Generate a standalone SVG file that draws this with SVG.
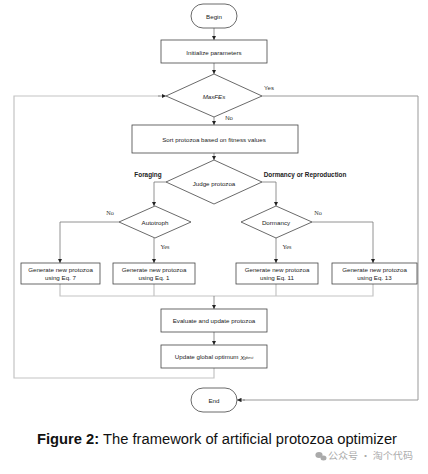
<svg xmlns="http://www.w3.org/2000/svg" width="428" height="474" viewBox="0 0 428 474">
<defs>
<marker id="ah" viewBox="0 0 6 6" refX="6" refY="3" markerWidth="4.5" markerHeight="4.5" orient="auto" markerUnits="userSpaceOnUse">
<path d="M0,0 L6,3 L0,6 Z" fill="#222"/>
</marker>
</defs>
<style>
.box{fill:#fff;stroke:#444;stroke-width:0.8}
.t{font-family:"Liberation Sans",Arial,sans-serif;font-size:6.2px;fill:#222;text-anchor:middle;dominant-baseline:central}
.b{font-family:"Liberation Sans",Arial,sans-serif;font-size:6.4px;font-weight:bold;fill:#222;text-anchor:middle;dominant-baseline:central}
.s{font-family:"Liberation Serif","Times New Roman",serif;font-size:6.2px;fill:#333;text-anchor:middle;dominant-baseline:central}
.c{fill:none;stroke:#777;stroke-width:0.8}
.lp{fill:none;stroke:#c4c4c4;stroke-width:1.2}
.rp{fill:none;stroke:#999;stroke-width:1}
</style>
<rect width="428" height="474" fill="#fff"/>
<g id="connectors">
<line class="c" x1="214" y1="28" x2="214" y2="40" marker-end="url(#ah)"/>
<line class="c" x1="214" y1="63" x2="214" y2="74" marker-end="url(#ah)"/>
<line class="c" x1="214" y1="117" x2="214" y2="125" marker-end="url(#ah)"/>
<line class="c" x1="214" y1="153" x2="214" y2="160" marker-end="url(#ah)"/>
<polyline class="c" points="166,182 154,182 154,206" marker-end="url(#ah)"/>
<polyline class="c" points="262,182 276,182 276,206" marker-end="url(#ah)"/>
<polyline class="c" points="119,222 60,222 60,263" marker-end="url(#ah)"/>
<line class="c" x1="154" y1="238" x2="154" y2="263" marker-end="url(#ah)"/>
<line class="c" x1="276" y1="238" x2="276" y2="263" marker-end="url(#ah)"/>
<polyline class="c" points="312,222 373,222 373,263" marker-end="url(#ah)"/>
<polyline class="lp" points="60,284 60,296 373,296 373,284"/>
<line class="lp" x1="154" y1="284" x2="154" y2="296"/>
<line class="lp" x1="276" y1="284" x2="276" y2="296"/>
<line class="c" x1="214" y1="296" x2="214" y2="309" marker-end="url(#ah)"/>
<line class="c" x1="214" y1="332" x2="214" y2="345" marker-end="url(#ah)"/>
<polyline class="lp" points="214,368 214,378 14,378 14,96 160,96"/>
<line class="c" x1="158" y1="96" x2="166" y2="96" marker-end="url(#ah)"/>
<polyline class="rp" points="262,96 418,96 418,400 243,400"/>
<line class="c" x1="245" y1="400" x2="237" y2="400" marker-end="url(#ah)"/>
<text class="s" x="269" y="88" style="font-family:'Liberation Sans',Arial,sans-serif;font-size:6px">Yes</text>
<text class="s" x="229" y="118" style="font-family:'Liberation Sans',Arial,sans-serif;font-size:6px">No</text>
<text class="b" x="148" y="174">Foraging</text>
<text class="b" x="305" y="174">Dormancy or Reproduction</text>
<text class="s" x="110" y="212">No</text>
<text class="s" x="165" y="246">Yes</text>
<text class="s" x="318" y="212">No</text>
<text class="s" x="287" y="246">Yes</text>
</g>
<g id="begin">
<rect class="box" x="191" y="4" width="46" height="24" rx="12"/>
<text class="t" x="214" y="16">Begin</text>
</g>
<g id="init">
<rect class="box" x="161" y="40" width="106" height="23"/>
<text class="t" x="214" y="52">Initialize parameters</text>
</g>
<g id="maxfes">
<polygon class="box" points="214,74 262,96 214,117 166,96"/>
<text class="t" x="214" y="96" font-style="italic">MaxFEs</text>
</g>
<g id="sort">
<rect class="box" x="132" y="125" width="166" height="28"/>
<text class="t" x="214" y="139">Sort protozoa based on fitness values</text>
</g>
<g id="judge">
<polygon class="box" points="214,160 262,182 214,204 166,182"/>
<text class="t" x="214" y="183">Judge protozoa</text>
</g>
<g id="autotroph">
<polygon class="box" points="155,206 191,222 155,238 119,222"/>
<text class="t" x="155" y="222">Autotroph</text>
</g>
<g id="dormancy">
<polygon class="box" points="276,206 312,222 276,238 241,222"/>
<text class="t" x="276" y="222">Dormancy</text>
</g>
<g id="eq7">
<rect class="box" x="21" y="263" width="79" height="21"/>
<text class="t" x="60.5" y="269.5">Generate new protozoa</text>
<text class="t" x="60.5" y="277.5">using Eq. 7</text>
</g>
<g id="eq1">
<rect class="box" x="113" y="263" width="82" height="21"/>
<text class="t" x="154" y="269.5">Generate new protozoa</text>
<text class="t" x="154" y="277.5">using Eq. 1</text>
</g>
<g id="eq11">
<rect class="box" x="236" y="263" width="82" height="21"/>
<text class="t" x="277" y="269.5">Generate new protozoa</text>
<text class="t" x="277" y="277.5">using Eq. 11</text>
</g>
<g id="eq13">
<rect class="box" x="332" y="263" width="85" height="21"/>
<text class="t" x="374.5" y="269.5">Generate new protozoa</text>
<text class="t" x="374.5" y="277.5">using Eq. 13</text>
</g>
<g id="evaluate">
<rect class="box" x="161" y="309" width="106" height="23"/>
<text class="t" x="214" y="320.5">Evaluate and update protozoa</text>
</g>
<g id="update">
<rect class="box" x="161" y="345" width="106" height="23"/>
<text class="t" x="214" y="356.5">Update global optimum <tspan font-style="italic">X</tspan><tspan font-size="3.6px" dy="1.5" font-style="italic">gbest</tspan></text>
</g>
<g id="end">
<rect class="box" x="191" y="388" width="46" height="24" rx="12"/>
<text class="t" x="214" y="400">End</text>
</g>
<text x="217" y="444" font-family="'Liberation Sans',Arial,sans-serif" font-size="14px" fill="#111" text-anchor="middle" textLength="360" lengthAdjust="spacingAndGlyphs"><tspan font-weight="bold">Figure 2:</tspan> The framework of artificial protozoa optimizer</text>
<g id="watermark" fill="#aaa">
<ellipse cx="319" cy="455" rx="3.6" ry="3"/>
<ellipse cx="323.5" cy="458" rx="3" ry="2.5"/>
<text x="328" y="459" font-family="'Noto Sans CJK SC',sans-serif" font-size="9.5px" textLength="85" lengthAdjust="spacingAndGlyphs">公众号 · 淘个代码</text>
</g>
</svg>
